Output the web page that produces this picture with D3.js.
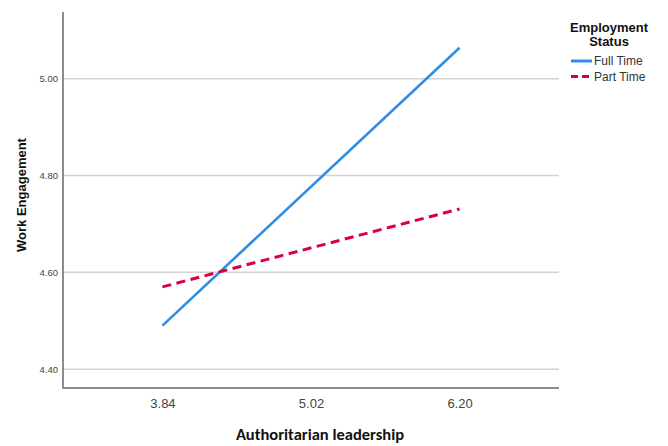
<!DOCTYPE html>
<html>
<head>
<meta charset="utf-8">
<script src="https://cdn.jsdelivr.net/npm/d3@7"></script>
<style>
  html, body { margin: 0; padding: 0; background: #fff; }
  svg { display: block; }
</style>
</head>
<body>
<svg id="chart" width="668" height="446"></svg>
<script>
// Simple slopes of work engagement across authoritarian leadership levels
const xLevels = [3.84, 5.02, 6.20];
const yTicks = [4.40, 4.60, 4.80, 5.00];
const fullTime = [4.49, 5.064];
const partTime = [4.57, 4.731];
const seriesNames = ["Full Time", "Part Time"];
const lineEnds = [3.84, 6.20];

(function () {
  const svg = d3.select("#chart");
  const plotLeft = 63, plotRight = 559, plotTop = 12, plotBottom = 388;

  const x = d3.scaleLinear().domain([3.05, 6.99]).range([plotLeft, plotRight]);
  const y = d3.scaleLinear().domain([4.361, 5.138]).range([plotBottom, plotTop]);

  // Horizontal grid lines
  svg.append("g")
    .selectAll("line")
    .data(yTicks)
    .join("line")
    .attr("x1", plotLeft).attr("x2", plotRight)
    .attr("y1", d => y(d)).attr("y2", d => y(d))
    .attr("stroke", "#d3d3d3").attr("stroke-width", 1.5);

  // Y axis
  const yAxis = svg.append("g")
    .attr("transform", `translate(${plotLeft},0)`)
    .call(d3.axisLeft(y).tickValues(yTicks).tickFormat(d3.format(".2f")).tickSize(0).tickPadding(5));
  yAxis.select(".domain").remove();
  yAxis.selectAll("text")
    .attr("font-family", "Arial, 'Liberation Sans', sans-serif")
    .attr("font-size", 9.5).attr("fill", "#444");

  // X axis
  const xAxis = svg.append("g")
    .attr("transform", `translate(0,${plotBottom})`)
    .call(d3.axisBottom(x).tickValues(xLevels).tickFormat(d3.format(".2f")).tickSize(0).tickPadding(11));
  xAxis.select(".domain").remove();
  xAxis.selectAll("text")
    .attr("font-family", "Arial, 'Liberation Sans', sans-serif")
    .attr("font-size", 13).attr("fill", "#444");

  // Axis frame lines
  svg.append("line")
    .attr("x1", plotLeft).attr("x2", plotLeft).attr("y1", plotTop).attr("y2", plotBottom + 1)
    .attr("stroke", "#8c8c8c").attr("stroke-width", 2);
  svg.append("line")
    .attr("x1", plotLeft - 1).attr("x2", plotRight).attr("y1", plotBottom).attr("y2", plotBottom)
    .attr("stroke", "#8c8c8c").attr("stroke-width", 2);

  // Series lines
  const line = d3.line().x(d => x(d[0])).y(d => y(d[1]));
  const series = [
    { name: seriesNames[0], values: fullTime, color: "#318ce7", dash: null, width: 2.6 },
    { name: seriesNames[1], values: partTime, color: "#d9003c", dash: "9,5.5", width: 3 }
  ];
  svg.append("g")
    .selectAll("path")
    .data(series)
    .join("path")
    .attr("d", s => line(lineEnds.map((xv, i) => [xv, s.values[i]])))
    .attr("fill", "none")
    .attr("stroke", s => s.color)
    .attr("stroke-width", s => s.width)
    .attr("stroke-dasharray", s => s.dash);

  // Axis titles
  svg.append("text")
    .attr("x", 320).attr("y", 440)
    .attr("text-anchor", "middle")
    .attr("font-family", "Carlito, Calibri, 'Liberation Sans', sans-serif")
    .attr("font-weight", "bold").attr("font-size", 16.5).attr("fill", "#111")
    .text("Authoritarian leadership");

  svg.append("text")
    .attr("transform", "translate(26,195) rotate(-90)")
    .attr("text-anchor", "middle")
    .attr("font-family", "Arial, 'Liberation Sans', sans-serif")
    .attr("font-weight", "bold").attr("font-size", 13).attr("fill", "#111")
    .text("Work Engagement");

  // Legend
  const legend = svg.append("g");
  legend.append("text")
    .attr("x", 609).attr("y", 32)
    .attr("text-anchor", "middle")
    .attr("font-family", "Arial, 'Liberation Sans', sans-serif")
    .attr("font-weight", "bold").attr("font-size", 13).attr("fill", "#111")
    .selectAll("tspan")
    .data(["Employment", "Status"])
    .join("tspan")
    .attr("x", 609).attr("dy", (d, i) => i === 0 ? 0 : 13.5)
    .text(d => d);

  const items = legend.selectAll("g.item")
    .data(series)
    .join("g")
    .attr("class", "item")
    .attr("transform", (d, i) => `translate(571,${61 + i * 15.5})`);
  items.append("line")
    .attr("x1", 0).attr("x2", 21).attr("y1", 0).attr("y2", 0)
    .attr("stroke", d => d.color)
    .attr("stroke-width", 3)
    .attr("stroke-dasharray", d => d.dash ? "7,4" : null);
  items.append("text")
    .attr("x", 23).attr("y", 4)
    .attr("font-family", "Arial, 'Liberation Sans', sans-serif")
    .attr("font-size", 12).attr("fill", "#333")
    .text(d => d.name);
})();
</script>
</body>
</html>
